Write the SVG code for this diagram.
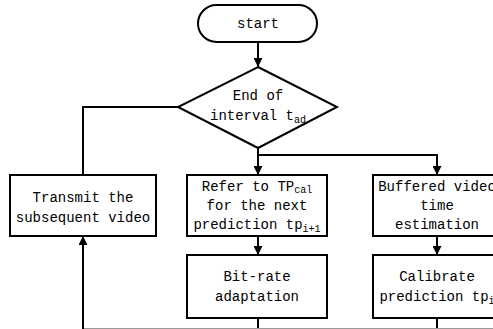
<svg xmlns="http://www.w3.org/2000/svg" width="493" height="329" viewBox="0 0 493 329">
<defs>
<marker id="ah" viewBox="0 0 10 10" refX="10" refY="5" markerWidth="9" markerHeight="9" orient="auto" markerUnits="userSpaceOnUse">
<path d="M0,0 L10,5 L0,10 z" fill="#000"/>
</marker>
<style>
.s{fill:#fff;stroke:#000;stroke-width:2}
.t{font-family:"Liberation Mono",monospace;font-size:14px;fill:#000;text-anchor:middle}
.sub{font-size:10px}
.c{fill:none;stroke:#000;stroke-width:2}
</style>
</defs>
<rect width="493" height="329" fill="#fff"/>
<g id="connectors">
<path class="c" d="M258,42 V67" marker-end="url(#ah)"/>
<path class="c" d="M258,148 V175" marker-end="url(#ah)"/>
<path class="c" d="M258,155 H437 V175" marker-end="url(#ah)"/>
<path class="c" d="M178,107 H83 V175"/>
<path class="c" d="M258,236 V255" marker-end="url(#ah)"/>
<path class="c" d="M437,236 V255" marker-end="url(#ah)"/>
<path class="c" d="M258,318 V329 M437,318 V329"/>
<path d="M83,328.5 H493" fill="none" stroke="#999" stroke-width="1"/>
<path class="c" d="M83,329 V236" marker-end="url(#ah)"/>
</g>
<g id="start">
<rect class="s" x="198" y="5" width="119" height="37" rx="18.5"/>
<text class="t" x="258" y="28">start</text>
</g>
<g id="decision">
<polygon class="s" points="258,67 337,107 258,148 178,107"/>
<text class="t" x="258" y="100">End of</text>
<text class="t" x="258" y="120">interval t<tspan class="sub" dy="3">ad</tspan></text>
</g>
<g id="transmit">
<rect class="s" x="10" y="175" width="146" height="61"/>
<text class="t" x="83" y="202">Transmit the</text>
<text class="t" x="83" y="222">subsequent video</text>
</g>
<g id="refer">
<rect class="s" x="187" y="175" width="140" height="61"/>
<text class="t" x="257" y="191">Refer to TP<tspan class="sub" dy="2">cal</tspan></text>
<text class="t" x="257" y="210">for the next</text>
<text class="t" x="257" y="229">prediction tp<tspan class="sub" dy="3">i+1</tspan></text>
</g>
<g id="bitrate">
<rect class="s" x="187" y="255" width="140" height="63"/>
<text class="t" x="257" y="281">Bit-rate</text>
<text class="t" x="257" y="301">adaptation</text>
</g>
<g id="buffered">
<rect class="s" x="373" y="175" width="128" height="61"/>
<text class="t" x="437" y="191">Buffered video</text>
<text class="t" x="437" y="210">time</text>
<text class="t" x="437" y="229">estimation</text>
</g>
<g id="calibrate">
<rect class="s" x="373" y="255" width="128" height="63"/>
<text class="t" x="437" y="281">Calibrate</text>
<text class="t" x="437" y="301">prediction tp<tspan class="sub" dy="3">i</tspan></text>
</g>
</svg>
